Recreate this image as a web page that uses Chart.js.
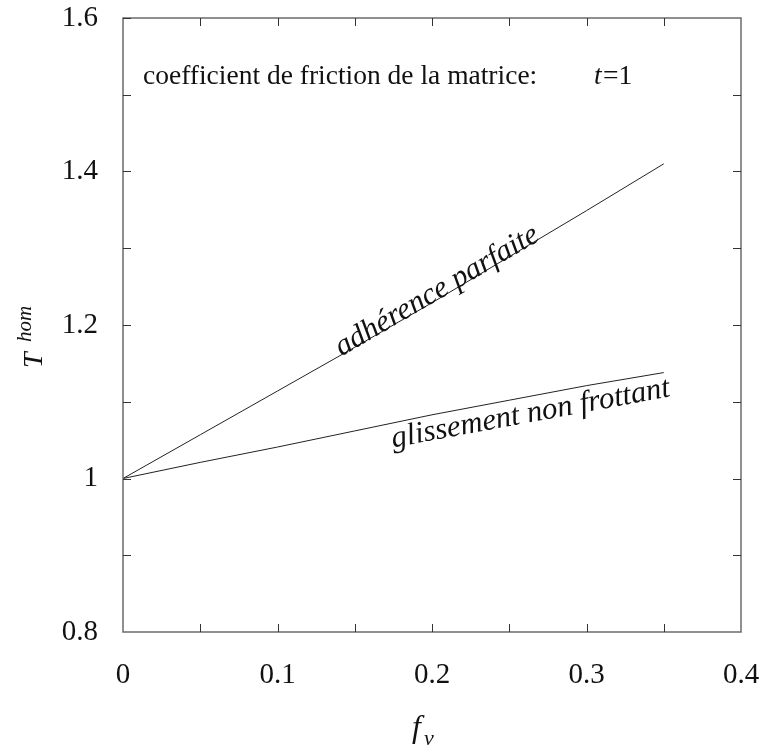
<!DOCTYPE html>
<html>
<head>
<meta charset="utf-8">
<script src="https://cdn.jsdelivr.net/npm/chart.js@4.4.0/dist/chart.umd.min.js"></script>
<style>
  html, body { margin: 0; padding: 0; background: #fff; }
  #wrap { width: 762px; height: 751px; }
</style>
</head>
<body>
<div id="wrap"><canvas id="c" width="762" height="751"></canvas></div>
<script>
// ---- data ----
const fv = [0, 0.05, 0.1, 0.15, 0.2, 0.25, 0.3, 0.35];
const adherenceParfaite = [1, 1.057, 1.114, 1.171, 1.229, 1.289, 1.349, 1.41];
const glissementNonFrottant = [1, 1.021, 1.041, 1.062, 1.083, 1.102, 1.121, 1.138];
const xTickValues = [0, 0.1, 0.2, 0.3, 0.4];
const xTickLabels = ['0', '0.1', '0.2', '0.3', '0.4'];
const yTickValues = [0.8, 1.0, 1.2, 1.4, 1.6];
const yTickLabels = ['0.8', '1', '1.2', '1.4', '1.6'];
const annotationText = 'coefficient de friction de la matrice:';
const labelUpper = 'adhérence parfaite';
const labelLower = 'glissement non frottant';

const toPts = (xs, ys) => xs.map((x, i) => ({ x: x, y: ys[i] }));
const serif = '"Liberation Serif", "Times New Roman", serif';

const decor = {
  id: 'decor',
  afterDraw(chart) {
    const { ctx, chartArea: a, scales: { x, y } } = chart;
    ctx.save();
    // frame
    ctx.strokeStyle = '#6b6b6b';
    ctx.lineWidth = 1.5;
    ctx.strokeRect(a.left, a.top, a.right - a.left, a.bottom - a.top);
    // inward ticks on all four sides
    ctx.strokeStyle = '#333';
    ctx.lineWidth = 1;
    const tl = 8;
    for (let v = 0.05; v < 0.4 - 1e-9; v += 0.05) {
      const px = Math.round(x.getPixelForValue(v)) + 0.5;
      ctx.beginPath();
      ctx.moveTo(px, a.bottom); ctx.lineTo(px, a.bottom - tl);
      ctx.moveTo(px, a.top); ctx.lineTo(px, a.top + tl);
      ctx.stroke();
    }
    for (let v = 0.9; v < 1.6 - 1e-9; v += 0.1) {
      const py = Math.round(y.getPixelForValue(v)) + 0.5;
      ctx.beginPath();
      ctx.moveTo(a.left, py); ctx.lineTo(a.left + tl, py);
      ctx.moveTo(a.right, py); ctx.lineTo(a.right - tl, py);
      ctx.stroke();
    }
    ctx.beginPath();
    ctx.moveTo(a.left, a.top + 0.5); ctx.lineTo(a.left + tl, a.top + 0.5);
    ctx.stroke();

    ctx.fillStyle = '#111';
    // tick labels
    ctx.font = '29px ' + serif;
    ctx.textAlign = 'center';
    ctx.textBaseline = 'alphabetic';
    xTickValues.forEach((v, i) => {
      ctx.fillText(xTickLabels[i], x.getPixelForValue(v), a.bottom + 51);
    });
    ctx.textAlign = 'right';
    ctx.textBaseline = 'middle';
    yTickValues.forEach((v, i) => {
      ctx.fillText(yTickLabels[i], a.left - 25, y.getPixelForValue(v));
    });

    ctx.textBaseline = 'alphabetic';
    ctx.textAlign = 'left';
    // annotation
    ctx.font = '27.5px ' + serif;
    ctx.fillText(annotationText, 143, 84);
    ctx.font = 'italic 27.5px ' + serif;
    ctx.fillText('t', 594, 84);
    ctx.font = '27.5px ' + serif;
    ctx.fillText('=1', 603, 84);

    // x axis title f_v
    ctx.font = 'italic 32px ' + serif;
    ctx.fillText('f', 412, 737);
    ctx.font = 'italic 22px ' + serif;
    ctx.fillText('v', 424, 745);

    // y axis title T hom (rotated)
    ctx.save();
    ctx.translate(42, 368);
    ctx.rotate(-Math.PI / 2);
    ctx.font = 'italic 28px ' + serif;
    ctx.fillText('T', 0, 0);
    ctx.font = 'italic 21px ' + serif;
    ctx.fillText('hom', 26, -11);
    ctx.restore();

    // curve labels
    const interp = (ys, xv) => {
      for (let i = 0; i < fv.length - 1; i++) {
        if (xv >= fv[i] && xv <= fv[i + 1]) {
          const t = (xv - fv[i]) / (fv[i + 1] - fv[i]);
          return ys[i] + t * (ys[i + 1] - ys[i]);
        }
      }
      return ys[ys.length - 1];
    };
    const drawAlong = (txt, x0, x1, ys, offRatio) => {
      const p0x = x.getPixelForValue(x0), p1x = x.getPixelForValue(x1);
      const p0y = y.getPixelForValue(interp(ys, x0)), p1y = y.getPixelForValue(interp(ys, x1));
      const ang = Math.atan2(p1y - p0y, p1x - p0x);
      const len = Math.hypot(p1x - p0x, p1y - p0y);
      ctx.font = 'italic 20px ' + serif;
      const w20 = ctx.measureText(txt).width;
      const fs = 20 * len / w20;
      ctx.save();
      ctx.translate(p0x, p0y);
      ctx.rotate(ang);
      ctx.font = 'italic ' + fs.toFixed(2) + 'px ' + serif;
      ctx.fillText(txt, 0, fs * offRatio);
      ctx.restore();
    };
    drawAlong(labelUpper, 0.141, 0.270, adherenceParfaite, 0.05);
    drawAlong(labelLower, 0.172, 0.352, glissementNonFrottant, 0.78);
    ctx.restore();
  }
};

new Chart(document.getElementById('c'), {
  type: 'scatter',
  data: {
    datasets: [
      { label: labelUpper, data: toPts(fv, adherenceParfaite), showLine: true,
        borderColor: '#222', borderWidth: 1, pointRadius: 0, fill: false, tension: 0 },
      { label: labelLower, data: toPts(fv, glissementNonFrottant), showLine: true,
        borderColor: '#222', borderWidth: 1, pointRadius: 0, fill: false, tension: 0 }
    ]
  },
  options: {
    responsive: false,
    animation: false,
    layout: { padding: { top: 18, right: 21, left: 0, bottom: 0 } },
    plugins: { legend: { display: false }, tooltip: { enabled: false } },
    scales: {
      x: {
        type: 'linear', min: 0, max: 0.4,
        grid: { display: false, drawTicks: false },
        border: { display: false },
        ticks: { display: false },
        afterFit(s) { s.height = 119; }
      },
      y: {
        type: 'linear', min: 0.8, max: 1.6,
        grid: { display: false, drawTicks: false },
        border: { display: false },
        ticks: { display: false },
        afterFit(s) { s.width = 123; }
      }
    }
  },
  plugins: [decor]
});
</script>
</body>
</html>
